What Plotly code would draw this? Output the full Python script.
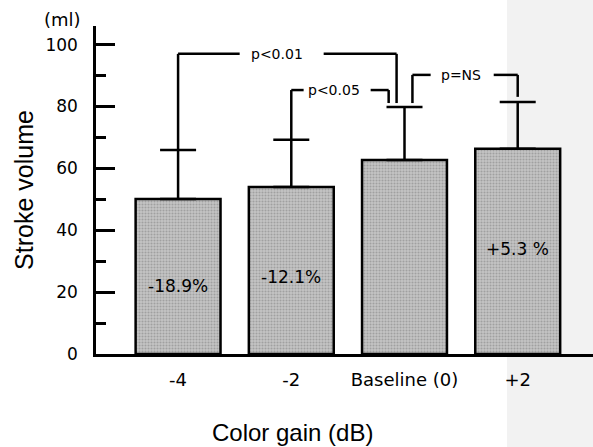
import plotly.graph_objects as go

# ---- data ----
categories = ["-4", "-2", "Baseline (0)", "+2"]
stroke_volume = [50.1, 54.0, 62.7, 66.3]
sd_upper = [15.8, 15.2, 17.1, 15.1]
pct_labels = ["-18.9%", "-12.1%", "", "+5.3 %"]
pct_label_y = [22, 25, None, 34]

sig_labels = ["p<0.01", "p<0.05", "p=NS"]
sig_level = [97.0, 85.3, 90.2]

y_ticks = [0, 20, 40, 60, 80, 100]

FONT = "DejaVu Sans"
fig = go.Figure()

fig.add_trace(go.Bar(
    x=categories, y=stroke_volume, width=0.75,
    marker=dict(color="#bdbdbd",
                line=dict(color="black", width=2.5),
                pattern=dict(shape=".", size=3, solidity=0.4,
                             fgcolor="#7c7c7c", bgcolor="#c4c4c4")),
    error_y=dict(type="data", symmetric=False, array=sd_upper,
                 arrayminus=[0] * 4, color="black", thickness=2.5, width=18),
    showlegend=False,
))

shapes = []
# gray scanned page background on the right
shapes.append(dict(type="rect", xref="paper", yref="paper", x0=0.827, x1=1.01,
                   y0=-0.3, y1=1.1, fillcolor="#f2f2f2", line_width=0, layer="below"))

def seg(x0, y0, x1, y1):
    shapes.append(dict(type="line", xref="x", yref="y", x0=x0, y0=y0, x1=x1, y1=y1,
                       line=dict(color="black", width=2.5)))

tops = [v + s for v, s in zip(stroke_volume, sd_upper)]
cap3 = tops[2] + 1.3
# p<0.01 : -4 vs baseline
seg(0, tops[0], 0, sig_level[0]); seg(0, sig_level[0], 0.544, sig_level[0])
seg(1.286, sig_level[0], 1.93, sig_level[0]); seg(1.93, sig_level[0], 1.93, cap3)
# p<0.05 : -2 vs baseline
seg(1, tops[1], 1, sig_level[1]); seg(1, sig_level[1], 1.109, sig_level[1])
seg(1.701, sig_level[1], 1.86, sig_level[1]); seg(1.86, sig_level[1], 1.86, cap3)
# p=NS : baseline vs +2
seg(2.07, cap3, 2.07, sig_level[2]); seg(2.07, sig_level[2], 2.231, sig_level[2])
seg(2.788, sig_level[2], 3, sig_level[2]); seg(3, sig_level[2], 3, tops[3] + 1.7)

annotations = []
for lab, xc, yv in zip(sig_labels, [0.87, 1.374, 2.496], sig_level):
    annotations.append(dict(x=xc, y=yv, xref="x", yref="y", text=lab, showarrow=False,
                            font=dict(family=FONT, size=14, color="black"),
                            xanchor="center", yanchor="middle"))
for i, (lab, yv) in enumerate(zip(pct_labels, pct_label_y)):
    if lab:
        annotations.append(dict(x=i, y=yv, xref="x", yref="y", text=lab, showarrow=False,
                                font=dict(family=FONT, size=17, color="black"),
                                xanchor="center", yanchor="middle"))

def px_x(p):
    return (p - 96) / 497

def px_y(p):
    return (354 - p) / 328

annotations.append(dict(x=px_x(62), y=px_y(20), xref="paper", yref="paper", text="(ml)",
                        showarrow=False, xanchor="center", yanchor="middle",
                        font=dict(family=FONT, size=18, color="black")))
annotations.append(dict(x=px_x(292), y=px_y(433), xref="paper", yref="paper",
                        text="Color gain (dB)", showarrow=False,
                        xanchor="center", yanchor="middle",
                        font=dict(family="Liberation Sans", size=24, color="black")))

fig.update_layout(
    width=593, height=447,
    margin=dict(l=96, r=0, t=26, b=93),
    paper_bgcolor="white", plot_bgcolor="rgba(0,0,0,0)",
    shapes=shapes, annotations=annotations,
)

fig.update_xaxes(type="category", range=[-0.725, 3.665], showline=True, linecolor="black",
                 linewidth=2.5, ticks="", showgrid=False, zeroline=False,
                 tickfont=dict(family=FONT, size=18, color="black"),
                 ticklabelstandoff=8)
fig.update_yaxes(range=[0, 106], tickvals=y_ticks, showline=True, linecolor="black",
                 linewidth=2.5, ticks="inside", ticklen=19, tickwidth=2.5, tickcolor="black",
                 minor=dict(dtick=10, tick0=0, ticks="inside", ticklen=10, tickwidth=2.5, tickcolor="black"),
                 showgrid=False, zeroline=False,
                 tickfont=dict(family=FONT, size=17, color="black"),
                 ticklabelstandoff=12,
                 title=dict(text="Stroke volume", font=dict(family="Liberation Sans", size=25, color="black"),
                            standoff=5))

fig.write_html("out.html")
